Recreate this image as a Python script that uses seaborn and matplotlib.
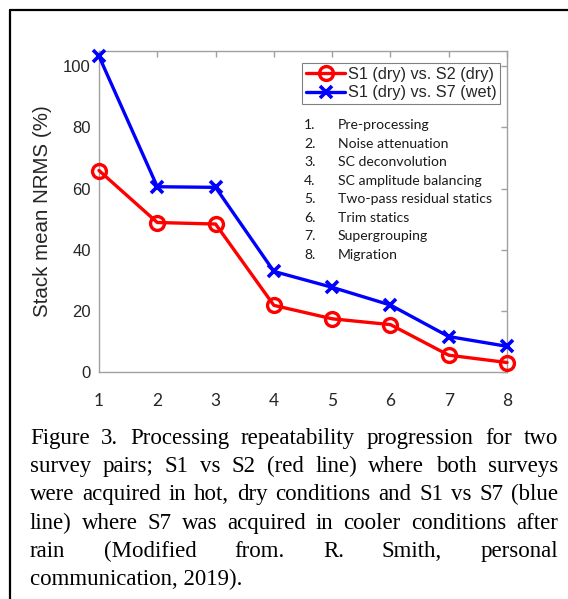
import matplotlib
matplotlib.use("Agg")
import matplotlib.pyplot as plt
import seaborn as sns
import pandas as pd
from matplotlib.lines import Line2D

# ---- data ----
steps = [1, 2, 3, 4, 5, 6, 7, 8]
dry_dry = [65.9, 48.9, 48.4, 21.8, 17.4, 15.5, 5.5, 3.1]
dry_wet = [103.3, 60.6, 60.4, 32.9, 27.7, 21.9, 11.6, 8.4]
series_labels = ["S1 (dry) vs. S2 (dry)", "S1 (dry) vs. S7 (wet)"]
step_names = ["Pre-processing", "Noise attenuation", "SC deconvolution",
              "SC amplitude balancing", "Two-pass residual statics",
              "Trim statics", "Supergrouping", "Migration"]
y_ticks = [0, 20, 40, 60, 80, 100]
ylabel = "Stack mean NRMS (%)"
caption_lines = [
    "Figure 3. Processing repeatability progression for two",
    "survey pairs; S1 vs S2 (red line) where both surveys",
    "were acquired in hot, dry conditions and S1 vs S7 (blue",
    "line) where S7 was acquired in cooler conditions after",
    "rain (Modified from. R. Smith, personal",
    "communication, 2019).",
]

sns.set_style("white")
plt.rcParams["font.family"] = ["Liberation Sans", "DejaVu Sans"]

W, H = 568, 599
fig = plt.figure(figsize=(W / 100, H / 100), dpi=100)

def fx(px):
    return px / W

def fy(py):
    return 1 - py / H

ax_l, ax_r, ax_t, ax_b = 99, 507, 51, 372
ax = fig.add_axes([fx(ax_l), fy(ax_b), fx(ax_r - ax_l), (ax_b - ax_t) / H])

df = pd.DataFrame({"step": steps, "a": dry_dry, "b": dry_wet})
sns.lineplot(data=df, x="step", y="a", ax=ax, color="#ff0000", lw=2.4,
             marker="o", markersize=10, markerfacecolor="none",
             markeredgecolor="#ff0000", markeredgewidth=2.4,
             label=series_labels[0], clip_on=False, zorder=3)
sns.lineplot(data=df, x="step", y="b", ax=ax, color="#0000ff", lw=2.4,
             marker="x", markersize=8, markeredgewidth=2.6,
             markeredgecolor="#0000ff",
             label=series_labels[1], clip_on=False, zorder=3)

ax.set_xlim(1, 8)
ax.set_ylim(0, 105)
ax.set_xticks(steps)
ax.set_xticklabels([str(s) for s in steps], fontfamily="Lato", fontsize=12.5)
ax.set_yticks(y_ticks)
ax.set_yticklabels([str(v) for v in y_ticks], fontsize=12)
ax.set_xlabel("")
ax.set_ylabel(ylabel, fontsize=14.8, labelpad=8)
axis_grey = "#a0a0a0"
for s in ax.spines.values():
    s.set_color(axis_grey)
    s.set_linewidth(1.0)
    s.set_visible(True)
ax.tick_params(axis="both", direction="in", length=4, width=1.0,
               color=axis_grey, top=True, right=True, labelcolor="#262626")
ax.tick_params(axis="x", pad=15)
ax.tick_params(axis="y", pad=6)
ax.grid(False)

leg = ax.legend(loc="upper left",
                bbox_to_anchor=((302 - ax_l) / (ax_r - ax_l), (ax_b - 63) / (ax_b - ax_t)),
                borderaxespad=0, fontsize=11.7, frameon=True, fancybox=False,
                framealpha=1, edgecolor="#808080", borderpad=0.25,
                handlelength=2.4, handletextpad=0.15, labelspacing=0.2)
leg.get_frame().set_linewidth(0.8)

# step list
for i, name in enumerate(step_names):
    yy = 124 + i * 18.55
    fig.text(fx(304), fy(yy), f"{i + 1}.", fontfamily="Lato", fontsize=10.1,
             va="center_baseline", ha="left", color="#1a1a1a")
    fig.text(fx(338), fy(yy), name, fontfamily="Lato", fontsize=10.1,
             va="center_baseline", ha="left", color="#1a1a1a")

# caption, justified
renderer = fig.canvas.get_renderer()
x0, x1 = 30, 558
cap_font = dict(fontfamily="Liberation Serif", fontsize=16.5, color="black",
                va="baseline", ha="left")
for li, line in enumerate(caption_lines):
    yy = 444 + li * 28.2
    if li == len(caption_lines) - 1:
        fig.text(fx(x0), fy(yy), line, **cap_font)
        continue
    words = line.split()
    texts = [fig.text(0, fy(yy), w, **cap_font) for w in words]
    widths = [t.get_window_extent(renderer).width for t in texts]
    gap = ((x1 - x0) - sum(widths)) / (len(words) - 1)
    cx = x0
    for t, wd in zip(texts, widths):
        t.set_x(fx(cx))
        cx += wd + gap

# frame border (top and left)
fig.add_artist(Line2D([fx(10), fx(W + 5)], [fy(10), fy(10)], color="black",
                      lw=1.6, transform=fig.transFigure))
fig.add_artist(Line2D([fx(10), fx(10)], [fy(10), fy(H + 5)], color="black",
                      lw=1.6, transform=fig.transFigure))

fig.savefig("out.png", dpi=100)
